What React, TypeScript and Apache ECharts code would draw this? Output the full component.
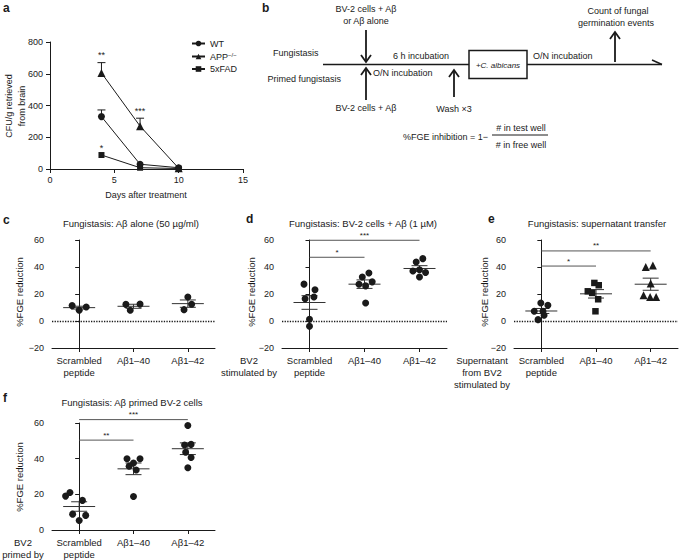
import React, { useEffect, useRef } from "react";
import * as echarts from "echarts";

const FONT = '"Liberation Sans", Arial, Helvetica, sans-serif';
const INK = "#1a1a1a";

// ---------- Panel a ----------
const daysA = [4, 7, 10];
const wtCfu = [330, 30, 8];
const wtSem = [42, 0, 0];
const appCfu = [605, 270, 5];
const appSem = [65, 50, 0];
const fadCfu = [88, 8, 3];
const fadSem = [0, 0, 0];
const starsA = [
  { day: 4, top: 670, label: "**" },
  { day: 7, top: 320, label: "***" },
  { day: 4, top: 88, label: "*" },
];

// ---------- Panels c-f ----------
const peptideCats = ["Scrambled\npeptide", "Aβ1–40", "Aβ1–42"];

const cScr = [11.4, 7.9, 10.4];
const cA40 = [12.3, 12.5, 7.9];
const cA42 = [17.8, 12.4, 8.4];
const cJit = [[-0.13, 0, 0.13], [-0.14, 0.12, -0.06], [0, 0.07, -0.07]];

const dScr = [27.3, 23.2, 17.8, 16.5, 1.3, -3.9];
const dA40 = [32.6, 35.6, 27.2, 26.0, 29.0, 13.3];
const dA42 = [43.7, 46.2, 37.0, 38.0, 35.9, 32.6];
const dJit = [
  [-0.1, 0.1, 0.08, -0.08, 0, 0],
  [-0.04, 0.08, -0.1, 0.02, 0.14, 0.02],
  [-0.06, 0.06, -0.12, 0, 0.11, 0],
];
const dSig = [
  { from: 0, to: 1, y: 47.2, label: "*" },
  { from: 0, to: 2, y: 59.8, label: "***" },
];

const eScr = [13.3, 11.6, 7.2, 7.2, 4.2, 1.0];
const eA40 = [28.2, 26.5, 22.0, 20.8, 16.1, 7.2];
const eA42 = [40.0, 41.2, 27.7, 19.0, 17.8, 17.8];
const eJit = [
  [-0.01, 0.12, -0.13, 0.03, 0.05, -0.06],
  [-0.03, 0.05, -0.15, -0.07, 0.04, -0.01],
  [-0.09, 0.04, 0, -0.13, -0.01, 0.1],
];
const eSig = [
  { from: 0, to: 1, y: 40.7, label: "*" },
  { from: 0, to: 2, y: 51.9, label: "**" },
];

const fScr = [21.0, 19.0, 16.6, 8.9, 8.2, 5.3];
const fA40 = [40.0, 40.0, 37.6, 35.8, 33.6, 18.8];
const fA42 = [58.6, 47.7, 48.0, 43.6, 40.7, 34.9];
const fJit = [
  [-0.17, -0.25, 0.06, -0.12, 0.12, 0],
  [-0.12, 0.12, 0, -0.08, 0.05, 0],
  [0, -0.06, 0.06, -0.04, 0.06, 0],
];
const fSig = [
  { from: 0, to: 1, y: 50.4, label: "**" },
  { from: 0, to: 2, y: 61.9, label: "***" },
];

const mean = (a: number[]) => a.reduce((s, v) => s + v, 0) / a.length;
const sem = (a: number[]) => {
  const m = mean(a);
  return Math.sqrt(a.reduce((s, v) => s + (v - m) * (v - m), 0) / (a.length - 1) / a.length);
};

const minus = (v: number) => (v < 0 ? "−" + Math.abs(v) : String(v));

function txt(x: number, y: number, text: string, o: any = {}) {
  const align = o.align ?? "center";
  return {
    type: "text",
    x,
    y,
    rotation: o.rot ?? 0,
    silent: true,
    style: {
      text,
      fill: INK,
      fontSize: o.size ?? 9,
      fontFamily: FONT,
      fontWeight: o.bold ? "bold" : "normal",
      fontStyle: o.italic ? "italic" : "normal",
      align,
      textAlign: align,
      verticalAlign: "middle",
      textVerticalAlign: "middle",
      lineHeight: o.lh ?? 12,
      rich: o.rich,
    },
  };
}
function ln(x1: number, y1: number, x2: number, y2: number, w = 1.5) {
  return { type: "line", silent: true, shape: { x1, y1, x2, y2 }, style: { stroke: INK, lineWidth: w } };
}
function arrow(x: number, yFrom: number, yTo: number) {
  const dir = yTo > yFrom ? 1 : -1;
  return [
    ln(x, yFrom, x, yTo, 1.8),
    {
      type: "polyline",
      silent: true,
      shape: { points: [[x - 5, yTo - dir * 7], [x, yTo], [x + 5, yTo - dir * 7]] },
      style: { stroke: INK, lineWidth: 1.8, fill: "none" },
    },
  ];
}

function buildOption() {
  const grids: any[] = [];
  const xAxes: any[] = [];
  const yAxes: any[] = [];
  const series: any[] = [];

  const axisBase = {
    axisLine: { show: true, lineStyle: { color: INK, width: 1 } },
    axisTick: { show: true, length: 4, lineStyle: { color: INK, width: 1 } },
    splitLine: { show: false },
  };

  // ----- Panel a -----
  grids.push({ left: 50, top: 42, width: 193, height: 127 });
  xAxes.push({
    type: "value", gridIndex: 0, min: 0, max: 15, interval: 5, ...axisBase,
    axisLabel: { fontSize: 9, color: INK, fontFamily: FONT, margin: 6 },
  });
  yAxes.push({
    type: "value", gridIndex: 0, min: 0, max: 800, interval: 200, ...axisBase,
    axisLabel: { fontSize: 9, color: INK, fontFamily: FONT, margin: 7 },
  });
  const lineSeries = [
    { name: "WT", vals: wtCfu, errs: wtSem, symbol: "circle", size: 7 },
    { name: "APP−/−", vals: appCfu, errs: appSem, symbol: "triangle", size: 8 },
    { name: "5xFAD", vals: fadCfu, errs: fadSem, symbol: "rect", size: 6 },
  ];
  lineSeries.forEach((s) => {
    series.push({
      type: "line", name: s.name, xAxisIndex: 0, yAxisIndex: 0,
      data: daysA.map((d, i) => [d, s.vals[i]]),
      symbol: s.symbol, symbolSize: s.size, showSymbol: true,
      lineStyle: { color: INK, width: 1 }, itemStyle: { color: INK, opacity: 1 },
    });
  });
  const errRows: number[][] = [];
  lineSeries.forEach((s) => daysA.forEach((d, i) => { if (s.errs[i] > 0) errRows.push([d, s.vals[i], s.errs[i]]); }));
  series.push({
    type: "custom", xAxisIndex: 0, yAxisIndex: 0, clip: false, silent: true,
    data: errRows,
    renderItem: (_p: any, api: any) => {
      const x = api.value(0), v = api.value(1), e = api.value(2);
      const a = api.coord([x, v]);
      const b = api.coord([x, v + e]);
      return {
        type: "group",
        children: [
          { type: "line", shape: { x1: a[0], y1: a[1], x2: b[0], y2: b[1] }, style: { stroke: INK, lineWidth: 1 } },
          { type: "line", shape: { x1: b[0] - 4, y1: b[1], x2: b[0] + 4, y2: b[1] }, style: { stroke: INK, lineWidth: 1 } },
        ],
      };
    },
  });
  series.push({
    type: "custom", xAxisIndex: 0, yAxisIndex: 0, clip: false, silent: true,
    data: starsA.map((s) => [s.day, s.top]),
    renderItem: (p: any, api: any) => {
      const c = api.coord([api.value(0), api.value(1)]);
      return {
        type: "text", x: c[0], y: c[1] - 3,
        style: { text: starsA[p.dataIndex].label, fontSize: 9, fontFamily: FONT, fill: INK, align: "center", verticalAlign: "bottom" },
      };
    },
  });

  // ----- Panels c-f -----
  const panels = [
    { grid: { left: 52, top: 240, width: 163, height: 108 }, groups: [cScr, cA40, cA42], jit: cJit, sym: ["circle", "circle", "circle"], yMin: -20, sig: [] as any[], zero: true },
    { grid: { left: 282, top: 240, width: 165, height: 108 }, groups: [dScr, dA40, dA42], jit: dJit, sym: ["circle", "circle", "circle"], yMin: -20, sig: dSig, zero: true },
    { grid: { left: 514, top: 240, width: 164, height: 108 }, groups: [eScr, eA40, eA42], jit: eJit, sym: ["circle", "rect", "triangle"], yMin: -20, sig: eSig, zero: true },
    { grid: { left: 52, top: 423, width: 163, height: 109 }, groups: [fScr, fA40, fA42], jit: fJit, sym: ["circle", "circle", "circle"], yMin: 0, sig: fSig, zero: false },
  ];

  panels.forEach((P, k) => {
    const gi = k + 1;
    const catIdx = 1 + 2 * k;
    const valIdx = catIdx + 1;
    const yIdx = k + 1;
    grids.push(P.grid);
    xAxes.push({
      type: "category", gridIndex: gi, data: peptideCats, boundaryGap: true, ...axisBase,
      axisLine: { show: true, onZero: false, lineStyle: { color: INK, width: 1 } },
      axisTick: { show: true, alignWithLabel: true, length: 4, lineStyle: { color: INK, width: 1 } },
      axisLabel: { fontSize: 9.5, color: INK, fontFamily: FONT, margin: 6, lineHeight: 12, interval: 0 },
    });
    xAxes.push({ type: "value", gridIndex: gi, min: -0.5, max: 2.5, show: false });
    yAxes.push({
      type: "value", gridIndex: gi, min: P.yMin, max: 60, interval: 20, ...axisBase,
      axisLabel: { fontSize: 9, color: INK, fontFamily: FONT, margin: 8, formatter: minus },
    });
    P.groups.forEach((vals, g) => {
      const s: any = {
        type: "scatter", xAxisIndex: valIdx, yAxisIndex: yIdx, silent: true,
        symbol: P.sym[g], symbolSize: P.sym[g] === "triangle" ? 8 : P.sym[g] === "rect" ? 6.5 : 7,
        itemStyle: { color: INK, opacity: 1 },
        data: vals.map((v, i) => [g + P.jit[g][i], v]),
      };
      if (g === 0 && P.zero) {
        s.markLine = {
          silent: true, symbol: ["none", "none"], label: { show: false },
          lineStyle: { type: "dotted", color: INK, width: 1.3 },
          data: [{ yAxis: 0 }],
        };
      }
      series.push(s);
    });
    series.push({
      type: "custom", xAxisIndex: valIdx, yAxisIndex: yIdx, clip: false, silent: true,
      data: P.groups.map((vals, g) => [g, mean(vals), sem(vals)]),
      renderItem: (_p: any, api: any) => {
        const x = api.value(0), m = api.value(1), e = api.value(2);
        const c = api.coord([x, m]);
        const hi = api.coord([x, m + e]);
        const lo = api.coord([x, m - e]);
        const st = { stroke: "#333", lineWidth: 1 };
        return {
          type: "group",
          children: [
            { type: "line", shape: { x1: c[0] - 16, y1: c[1], x2: c[0] + 16, y2: c[1] }, style: st },
            { type: "line", shape: { x1: c[0], y1: hi[1], x2: c[0], y2: lo[1] }, style: st },
            { type: "line", shape: { x1: c[0] - 8, y1: hi[1], x2: c[0] + 8, y2: hi[1] }, style: st },
            { type: "line", shape: { x1: c[0] - 8, y1: lo[1], x2: c[0] + 8, y2: lo[1] }, style: st },
          ],
        };
      },
    });
    if (P.sig.length) {
      const sig = P.sig;
      series.push({
        type: "custom", xAxisIndex: valIdx, yAxisIndex: yIdx, clip: false, silent: true,
        data: sig.map((s: any) => [s.from, s.y, s.to]),
        renderItem: (p: any, api: any) => {
          const a = api.coord([api.value(0), api.value(1)]);
          const b = api.coord([api.value(2), api.value(1)]);
          return {
            type: "group",
            children: [
              { type: "line", shape: { x1: a[0], y1: a[1], x2: b[0], y2: b[1] }, style: { stroke: "#555", lineWidth: 1 } },
              {
                type: "text", x: (a[0] + b[0]) / 2, y: a[1] - 1,
                style: { text: sig[p.dataIndex].label, fontSize: 8, fontFamily: FONT, fill: INK, align: "center", verticalAlign: "bottom" },
              },
            ],
          };
        },
      });
    }
  });

  // ----- Graphic texts and diagram -----
  const g: any[] = [];
  // panel letters
  g.push(txt(3, 8, "a", { size: 12, bold: true, align: "left" }));
  g.push(txt(262, 8, "b", { size: 12, bold: true, align: "left" }));
  g.push(txt(3, 220, "c", { size: 12, bold: true, align: "left" }));
  g.push(txt(246, 219, "d", { size: 12, bold: true, align: "left" }));
  g.push(txt(488, 219, "e", { size: 12, bold: true, align: "left" }));
  g.push(txt(3, 398, "f", { size: 12, bold: true, align: "left" }));

  // panel a titles
  g.push(txt(15, 106, "CFU/g retrieved\nfrom brain", { size: 9, rot: Math.PI / 2, lh: 13 }));
  g.push(txt(146, 195, "Days after treatment", { size: 9 }));

  // panel titles c-f
  g.push(txt(131, 223, "Fungistasis: Aβ alone (50 µg/ml)", { size: 9.5 }));
  g.push(txt(363, 223, "Fungistasis: BV-2 cells + Aβ (1 µM)", { size: 9.5 }));
  g.push(txt(597, 223, "Fungistasis: supernatant transfer", { size: 9.5 }));
  g.push(txt(132, 402, "Fungistasis: Aβ primed BV-2 cells", { size: 9.5 }));
  // y titles
  g.push(txt(19, 292, "%FGE reduction", { size: 9.5, rot: Math.PI / 2 }));
  g.push(txt(251, 292, "%FGE reduction", { size: 9.5, rot: Math.PI / 2 }));
  g.push(txt(484, 292, "%FGE reduction", { size: 9.5, rot: Math.PI / 2 }));
  g.push(txt(19, 477, "%FGE reduction", { size: 9.5, rot: Math.PI / 2 }));
  // bottom-left axis captions
  g.push(txt(249, 360, "BV2", { size: 9.5 }));
  g.push(txt(249, 372, "stimulated by", { size: 9.5 }));
  g.push(txt(482, 360, "Supernatant", { size: 9.5 }));
  g.push(txt(482, 372, "from BV2", { size: 9.5 }));
  g.push(txt(482, 384, "stimulated by", { size: 9.5 }));
  g.push(txt(23, 542, "BV2", { size: 9.5 }));
  g.push(txt(23, 554, "primed by", { size: 9.5 }));

  // panel b diagram
  g.push(txt(366, 9, "BV-2 cells + Aβ", { size: 9 }));
  g.push(txt(366, 21, "or Aβ alone", { size: 9 }));
  g.push(...arrow(366, 30, 62));
  g.push(txt(273, 53, "Fungistasis", { size: 9, align: "left" }));
  g.push(txt(341, 79, "Primed fungistasis", { size: 9, align: "right" }));
  g.push(ln(323, 64.5, 469, 64.5));
  g.push({ type: "rect", silent: true, shape: { x: 469, y: 50.5, width: 58, height: 28 }, style: { stroke: INK, lineWidth: 1.5, fill: "#fff" } });
  g.push(txt(498, 65, "{n|+}{i|C. albicans}", {
    size: 8,
    rich: { n: { fontSize: 8, fontFamily: FONT, fill: INK }, i: { fontSize: 8, fontFamily: FONT, fontStyle: "italic", fill: INK } },
  }));
  g.push(ln(527, 64.5, 662, 64.5));
  g.push(ln(662, 64.5, 652, 60));
  g.push(txt(393, 56, "6 h incubation", { size: 9, align: "left" }));
  g.push(txt(373, 73, "O/N incubation", { size: 9, align: "left" }));
  g.push(...arrow(366, 100, 68));
  g.push(txt(366, 108, "BV-2 cells + Aβ", { size: 9 }));
  g.push(...arrow(454, 97, 70));
  g.push(txt(454, 109, "Wash ×3", { size: 9 }));
  g.push(txt(533, 56, "O/N incubation", { size: 9, align: "left" }));
  g.push(...arrow(615, 62, 32));
  g.push(txt(618, 11, "Count of fungal", { size: 9 }));
  g.push(txt(616, 23, "germination events", { size: 9 }));
  g.push(txt(488, 137, "%FGE inhibition = 1−", { size: 9, align: "right" }));
  g.push(txt(521, 128, "# in test well", { size: 9 }));
  g.push(ln(492, 135, 548, 135, 1));
  g.push(txt(521, 145, "# in free well", { size: 9 }));

  return {
    animation: false,
    backgroundColor: "#fff",
    textStyle: { fontFamily: FONT, color: INK },
    grid: grids,
    xAxis: xAxes,
    yAxis: yAxes,
    legend: {
      orient: "vertical", left: 186, top: 34, itemWidth: 13, itemHeight: 7, itemGap: 3.5,
      data: ["WT", "APP−/−", "5xFAD"],
      formatter: (n: string) => (n === "APP−/−" ? "APP{s|−/−}" : n),
      textStyle: {
        fontSize: 9, fontFamily: FONT, color: INK,
        rich: { s: { fontSize: 6, fontFamily: FONT, color: INK, verticalAlign: "top", padding: [0, 0, 4, 0] } },
      },
      selectedMode: false,
    },
    series,
    graphic: { elements: g },
  };
}

export default function App() {
  const ref = useRef<HTMLDivElement>(null);
  useEffect(() => {
    const chart = echarts.init(ref.current!, null, { renderer: "svg" });
    chart.setOption(buildOption() as any);
    return () => chart.dispose();
  }, []);
  return (
    <div
      ref={ref}
      style={{ position: "fixed", left: 0, top: 0, width: 679, height: 560, background: "#fff" }}
    />
  );
}
